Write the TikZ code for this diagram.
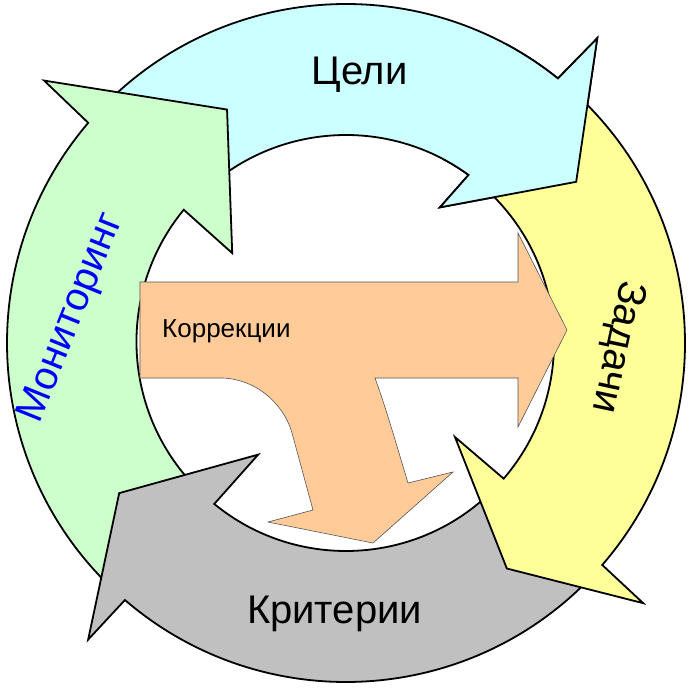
\documentclass[tikz,border=0pt]{standalone}
\usepackage{fontspec}
\setmainfont{Liberation Sans}
\definecolor{cyanfill}{HTML}{CCFFFF}
\definecolor{greenfill}{HTML}{CCFFCC}
\definecolor{yellowfill}{HTML}{FFFF99}
\definecolor{grayfill}{HTML}{C0C0C0}
\definecolor{orangefill}{HTML}{FFCC99}
\definecolor{orangeline}{HTML}{555555}
\definecolor{textblue}{HTML}{0000FF}
\tikzset{
  ringarrow/.style={draw=black, line width=1.8pt, line join=miter},
  bigtext/.style={font=\fontsize{40}{48}\selectfont, inner sep=0pt},
  smalltext/.style={font=\fontsize{26}{31}\selectfont, inner sep=0pt},
}
\newcommand{\cyanarrow}{%
  \path[ringarrow, fill=cyanfill] (137:339) arc[start angle=137, end angle=51.3, radius=339]
    -- (50.5:395) -- (35:281) -- (55.3:165) -- (53.9:208)
    arc[start angle=53.9, end angle=137, radius=208] -- cycle;}
\begin{document}
\begin{tikzpicture}[x=1pt,y=1pt]
\useasboundingbox (-346,-348) rectangle (349,343);
\fill[white] (-346,-348) rectangle (349,343);
% cyan (Цели)
\cyanarrow
% green (Мониторинг)
\path[ringarrow, fill=greenfill] (-133:339) arc[start angle=-133, end angle=-220.5, radius=339]
  -- (139:400) -- (117:262) -- (141.7:145) -- (140.6:210)
  arc[start angle=-219.4, end angle=-133, radius=208] -- cycle;
% gray (Критерии)
\path[ringarrow, fill=grayfill] (-44:339) arc[start angle=-44, end angle=-130.7, radius=339]
  -- (-131:393) -- (-146.5:272) -- (-128.2:142) -- (-129.3:208)
  arc[start angle=-129.3, end angle=-44, radius=208] -- cycle;
% yellow (Задачи)
\path[ringarrow, fill=yellowfill] (48:339) arc[start angle=48, end angle=-40.9, radius=339]
  -- (-41.2:395) -- (-54.5:277) -- (-40.8:144) -- (-40.7:208)
  arc[start angle=-40.7, end angle=48, radius=208] -- cycle;
% cyan head on top of yellow tail
\begin{scope}
  \clip (0,0) -- (25:460) arc[start angle=25, end angle=62, radius=460] -- cycle;
  \cyanarrow
\end{scope}
% orange (Коррекции)
\begin{scope}[shift={(-346,343)}, yscale=-1]
  \path[draw=orangeline, fill=orangefill, line width=0.6pt, line join=miter]
    (140,282) -- (518,282) -- (518,233) -- (567,330) -- (518,427) -- (518,378)
    -- (375,378) .. controls (386,408) and (398,450) .. (408,483)
    -- (453,472) -- (373,543) -- (268,522) -- (313,510) -- (292,433)
    .. controls (286,410) and (262,380) .. (223,378)
    -- (140,378) -- cycle;
\end{scope}
% texts
\node[bigtext, anchor=base] (tceli) at (13.5,258) {Цели};
\node[bigtext, anchor=base] (tkrit) at (-11.5,-280) {Критерии};
\node[bigtext, rotate=-102] (tzad) at (271,-4) {Задачи};
\node[bigtext, rotate=68, text=textblue] (tmon) at (-274,25) {Мониторинг};
\node[smalltext, anchor=base west] (tkorr) at (-184,6) {Коррекции};
\end{tikzpicture}
\end{document}
